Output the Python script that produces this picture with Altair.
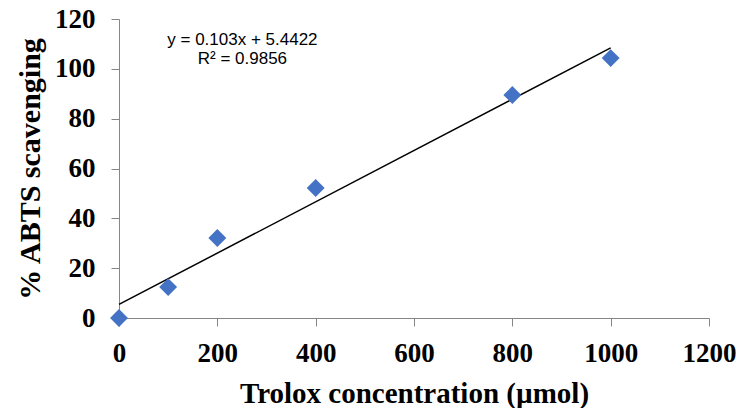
import altair as alt
import pandas as pd

# Data
conc = [0, 100, 200, 400, 800, 1000]
scav = [0, 12.4, 32.1, 52.2, 89.5, 104.3]

slope = 0.103
intercept = 5.4422
trend_x = [0, 1000]
eq_lines = ["y = 0.103x + 5.4422", "R² = 0.9856"]
eq_pos_x = [251, 251]
eq_pos_y = [111.6, 104]

x_ticks = [0, 200, 400, 600, 800, 1000, 1200]
y_ticks = [0, 20, 40, 60, 80, 100, 120]

pts = pd.DataFrame({"x": conc, "y": scav})
trend = pd.DataFrame({"x": trend_x})
eq = pd.DataFrame({"x": eq_pos_x, "y": eq_pos_y, "t": eq_lines})

axis_color = "#868686"
serif = "Liberation Serif"

xscale = alt.Scale(domain=[0, 1200], nice=False)
yscale = alt.Scale(domain=[0, 120], nice=False)

xaxis = alt.Axis(
    values=x_ticks, format="d", grid=False, domainColor=axis_color, tickColor=axis_color,
    tickSize=8, labelFont=serif, labelFontSize=27, labelFontWeight="bold",
    labelColor="black", labelPadding=14, title="Trolox concentration (µmol)",
    titleFont=serif, titleFontSize=29, titleFontWeight="bold", titleColor="black",
    titleY=75, titleBaseline="middle", labelFlush=False,
)
yaxis = alt.Axis(
    values=y_ticks, format="d", grid=False, domainColor=axis_color, tickColor=axis_color,
    tickSize=8, labelFont=serif, labelFontSize=27, labelFontWeight="bold",
    labelColor="black", labelPadding=16, title="% ABTS scavenging",
    titleFont=serif, titleFontSize=30, titleFontWeight="bold", titleColor="black",
    titleX=-89, titleY=149.5, titleAngle=-90, titleAlign="center", titleBaseline="middle",
)

points = alt.Chart(pts).mark_point(
    shape="diamond", filled=True, size=320, color="#4472C4", opacity=1
).encode(
    x=alt.X("x:Q", scale=xscale, axis=xaxis),
    y=alt.Y("y:Q", scale=yscale, axis=yaxis),
)

line = alt.Chart(trend).transform_calculate(
    y=f"{slope} * datum.x + {intercept}"
).mark_line(color="black", strokeWidth=1.5).encode(
    x=alt.X("x:Q", scale=xscale),
    y=alt.Y("y:Q", scale=yscale),
)

text = alt.Chart(eq).mark_text(
    font="Liberation Sans", fontSize=17, color="black", align="center", baseline="middle"
).encode(
    x=alt.X("x:Q", scale=xscale),
    y=alt.Y("y:Q", scale=yscale),
    text="t:N",
)

chart = alt.layer(line, points, text).properties(
    width=590, height=299,
    autosize=alt.AutoSizeParams(type="none"),
    padding={"left": 111, "top": 11, "right": 30, "bottom": 90},
).configure_view(stroke=None)

chart.save("out.html", embed_options={"renderer": "svg", "actions": False})
